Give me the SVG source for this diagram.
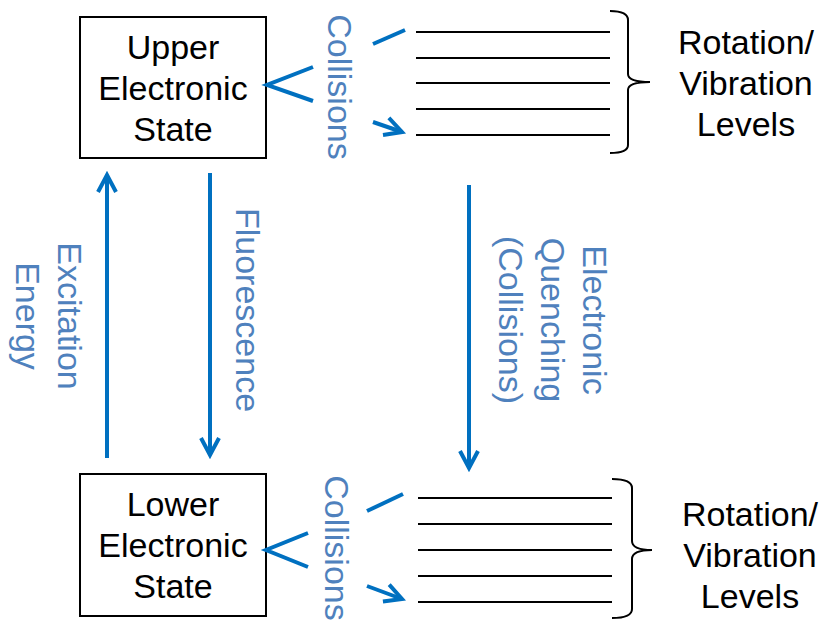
<svg xmlns="http://www.w3.org/2000/svg" width="824" height="624" viewBox="0 0 824 624">
<defs>
<style>
.box{fill:#fff;stroke:#000;stroke-width:2}
.bt{font-family:"Liberation Sans",Arial,sans-serif;font-size:34px;fill:#000;text-anchor:middle}
.lt{font-family:"Liberation Sans",Arial,sans-serif;font-size:34px;fill:#4f81bd;text-anchor:middle}
.arr{stroke:#0070c0;stroke-width:4;fill:none}
.lvl{stroke:#000;stroke-width:2;fill:none}
</style>
<marker id="ah" markerUnits="userSpaceOnUse" viewBox="-20 -12 24 24" markerWidth="24" markerHeight="24" refX="0" refY="0" orient="auto">
<path d="M-17,-9 L0,0 L-17,9" fill="none" stroke="#0070c0" stroke-width="4"/>
</marker>
</defs>
<g id="upper-state">
<rect class="box" x="80" y="17" width="186" height="141"/>
<text class="bt" x="173" y="59">Upper</text>
<text class="bt" x="173" y="100">Electronic</text>
<text class="bt" x="173" y="141">State</text>
</g>
<g id="lower-state">
<rect class="box" x="80" y="474" width="186" height="142"/>
<text class="bt" x="173" y="516">Lower</text>
<text class="bt" x="173" y="557">Electronic</text>
<text class="bt" x="173" y="598">State</text>
</g>
<g id="upper-levels">
<path class="lvl" d="M416,32H610M416,58H610M416,83H610M416,109H610M416,135H610"/>
<path class="lvl" d="M610,11 Q628,11 628,20 L628,74 Q628,82 650,82 Q628,82 628,90 L628,145 Q628,153 610,153"/>
<text class="bt" x="746" y="54">Rotation/</text>
<text class="bt" x="746" y="95">Vibration</text>
<text class="bt" x="746" y="136">Levels</text>
</g>
<g id="lower-levels">
<path class="lvl" d="M418,498H612M418,524H612M418,550H612M418,576H612M418,602H612"/>
<path class="lvl" d="M612,479 Q632,479 632,488 L632,541 Q632,550 652,550 Q632,550 632,559 L632,609 Q632,618 612,618"/>
<text class="bt" x="750" y="526">Rotation/</text>
<text class="bt" x="750" y="567">Vibration</text>
<text class="bt" x="750" y="608">Levels</text>
</g>
<g id="connectors">
<line class="arr" x1="107" y1="458" x2="107" y2="175" marker-end="url(#ah)"/>
<line class="arr" x1="210" y1="173" x2="210" y2="455" marker-end="url(#ah)"/>
<line class="arr" x1="469" y1="185" x2="469" y2="468" marker-end="url(#ah)"/>
<polyline class="arr" points="313,67 267,85 313,101"/>
<line class="arr" x1="373" y1="44" x2="405" y2="30"/>
<line class="arr" x1="373" y1="122" x2="402" y2="132" marker-end="url(#ah)"/>
<polyline class="arr" points="308,533 266,550 308,567"/>
<line class="arr" x1="367" y1="511" x2="403" y2="494"/>
<line class="arr" x1="367" y1="586" x2="402" y2="599" marker-end="url(#ah)"/>
</g>
<g id="labels">
<text class="lt" transform="translate(328,87) rotate(90)">Collisions</text>
<text class="lt" transform="translate(325,548) rotate(90)">Collisions</text>
<text class="lt" transform="translate(236,310) rotate(90)">Fluorescence</text>
<text class="lt" transform="translate(58,316) rotate(90)">Excitation<tspan x="0" dy="42">Energy</tspan></text>
<text class="lt" transform="translate(583,320) rotate(90)">Electronic<tspan x="0" dy="42">Quenching</tspan><tspan x="0" dy="42">(Collisions)</tspan></text>
</g>
</svg>
